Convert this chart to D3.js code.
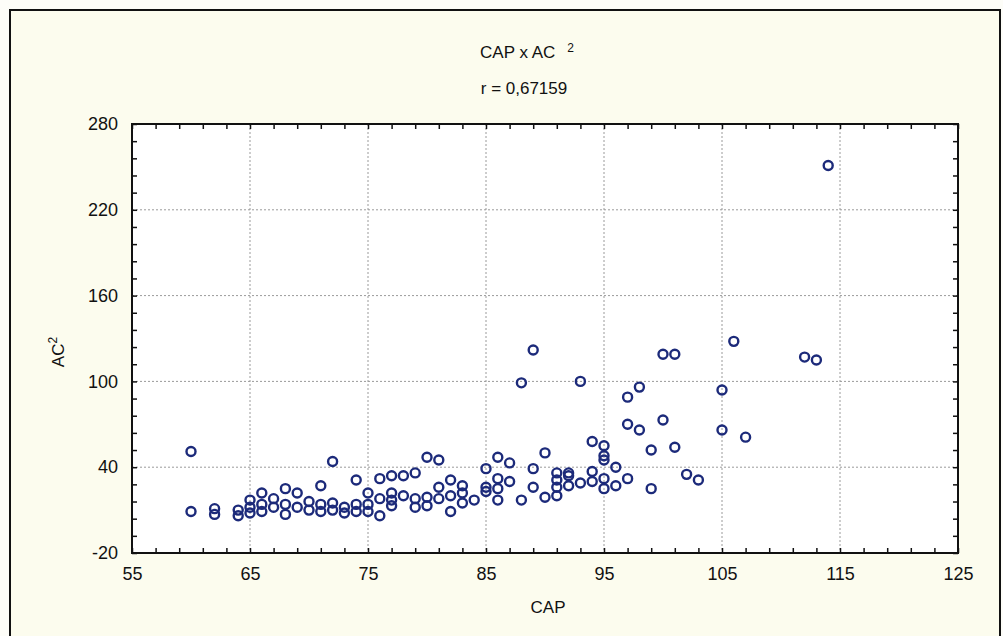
<!DOCTYPE html>
<html>
  <head>
    <meta charset="UTF-8">
    <title>CAP x AC2</title>
    <script src="https://d3js.org/d3.v7.min.js"></script>
    <style>
      body { margin: 0; background: #fdfdf8; }
      text { font-family: "Liberation Sans", Arial, sans-serif; fill: #111; }
    </style>
  </head>
  <body>
    <div id="graph"></div>
    <script>

// data
const capValues = [60,60,62,62,64,64,65,65,65,66,66,66,67,67,68,68,68,69,69,70,70,71,71,71,72,72,72,73,73,74,74,74,75,75,75,76,76,76,77,77,77,77,78,78,79,79,79,80,80,80,81,81,81,82,82,82,83,83,83,84,85,85,85,86,86,86,86,87,87,88,88,89,89,89,90,90,91,91,91,91,92,92,92,93,93,94,94,94,95,95,95,95,95,96,96,97,97,97,98,98,99,99,100,100,101,101,102,103,105,105,106,107,112,113,114];
const ac2Values = [51,9,11,7,10,6,17,12,8,22,14,9,18,12,25,14,7,22,12,16,10,27,14,9,44,15,10,12,8,31,14,9,22,14,9,32,18,6,34,22,17,13,34,20,36,18,12,47,19,13,45,26,18,31,20,9,27,22,15,17,39,26,23,47,32,25,17,43,30,99,17,122,39,26,50,19,36,31,26,20,36,34,27,100,29,58,37,30,55,48,45,32,25,40,27,89,70,32,96,66,52,25,119,73,119,54,35,31,94,66,128,61,117,115,251];

const xTicks = [55,65,75,85,95,105,115,125];
const yTicks = [-20,40,100,160,220,280];

const svgWidth = 1003;
const svgHeight = 636;

const margin = {top: 124, right: 45, bottom: 83, left: 132};
const chartWidth = svgWidth - margin.left - margin.right;
const chartHeight = svgHeight - margin.top - margin.bottom;

const svg = d3.select("#graph")
  .append("svg")
  .attr("width", svgWidth)
  .attr("height", svgHeight);

// outer frame
svg.append("rect")
  .attr("x", 10).attr("y", 10)
  .attr("width", 990).attr("height", 628)
  .attr("fill", "#fcfcee")
  .attr("stroke", "#111")
  .attr("stroke-width", 2);

const chart = svg.append("g")
  .attr("transform", "translate(" + margin.left + "," + margin.top + ")");

chart.append("rect")
  .attr("width", chartWidth)
  .attr("height", chartHeight)
  .attr("fill", "#fff");

const xScale = d3.scaleLinear().domain([55, 125]).range([0, chartWidth]);
const yScale = d3.scaleLinear().domain([-20, 280]).range([chartHeight, 0]);

// grid
chart.append("g")
  .selectAll("line")
  .data(xTicks.slice(1, -1))
  .join("line")
  .attr("x1", d => xScale(d)).attr("x2", d => xScale(d))
  .attr("y1", 0).attr("y2", chartHeight)
  .attr("stroke", "#9a9a9a")
  .attr("stroke-dasharray", "2,2");

chart.append("g")
  .selectAll("line")
  .data(yTicks.slice(1, -1))
  .join("line")
  .attr("y1", d => yScale(d)).attr("y2", d => yScale(d))
  .attr("x1", 0).attr("x2", chartWidth)
  .attr("stroke", "#9a9a9a")
  .attr("stroke-dasharray", "2,2");

// inward minor ticks on all four sides
const xMinor = d3.range(55, 125.1, 2);
const yMinor = d3.range(-20, 280.1, 12);

function tickAxis(axis, transform) {
  const g = chart.append("g")
    .attr("transform", transform)
    .call(axis);
  g.select(".domain").remove();
  g.selectAll("line").attr("stroke", "#111").attr("stroke-width", 1.5);
  g.selectAll("text").remove();
}

tickAxis(d3.axisTop(xScale).tickValues(xMinor).tickSize(5), "translate(0," + chartHeight + ")");
tickAxis(d3.axisBottom(xScale).tickValues(xMinor).tickSize(5), "translate(0,0)");
tickAxis(d3.axisRight(yScale).tickValues(yMinor).tickSize(5), "translate(0,0)");
tickAxis(d3.axisLeft(yScale).tickValues(yMinor).tickSize(5), "translate(" + chartWidth + ",0)");

// tick labels (plain hyphen for negatives, like the original)
const plain = d => String(d);

const xAxis = chart.append("g")
  .attr("transform", "translate(0," + chartHeight + ")")
  .call(d3.axisBottom(xScale).tickValues(xTicks).tickFormat(plain).tickSize(0).tickPadding(14));
xAxis.select(".domain").remove();
xAxis.selectAll("text").style("font-size", "18px").attr("font-family", null);

const yAxis = chart.append("g")
  .call(d3.axisLeft(yScale).tickValues(yTicks).tickFormat(plain).tickSize(0).tickPadding(14));
yAxis.select(".domain").remove();
yAxis.selectAll("text").style("font-size", "18px").attr("font-family", null);

// plot frame
chart.append("rect")
  .attr("width", chartWidth)
  .attr("height", chartHeight)
  .attr("fill", "none")
  .attr("stroke", "#111")
  .attr("stroke-width", 2);

// points
chart.selectAll(".pt")
  .data(d3.zip(capValues, ac2Values))
  .join("circle")
  .attr("class", "pt")
  .attr("cx", d => xScale(d[0]))
  .attr("cy", d => yScale(d[1]))
  .attr("r", 4.5)
  .attr("fill", "none")
  .attr("stroke", "#1c2a7a")
  .attr("stroke-width", 2.4);

// titles
const title = svg.append("text")
  .attr("x", 527).attr("y", 58)
  .attr("text-anchor", "middle")
  .style("font-size", "17px");
title.append("tspan").text("CAP x AC");
title.append("tspan").attr("dx", 12).attr("dy", -6).style("font-size", "12px").text("2");

svg.append("text")
  .attr("x", 524).attr("y", 94)
  .attr("text-anchor", "middle")
  .style("font-size", "17px")
  .text("r = 0,67159");

svg.append("text")
  .attr("x", 548).attr("y", 613)
  .attr("text-anchor", "middle")
  .style("font-size", "17px")
  .text("CAP");

const yLabel = svg.append("text")
  .attr("transform", "translate(64,352) rotate(-90)")
  .attr("text-anchor", "middle")
  .style("font-size", "17px");
yLabel.append("tspan").text("AC");
yLabel.append("tspan").attr("dy", -7).style("font-size", "12px").text("2");

    </script>
  </body>
</html>
